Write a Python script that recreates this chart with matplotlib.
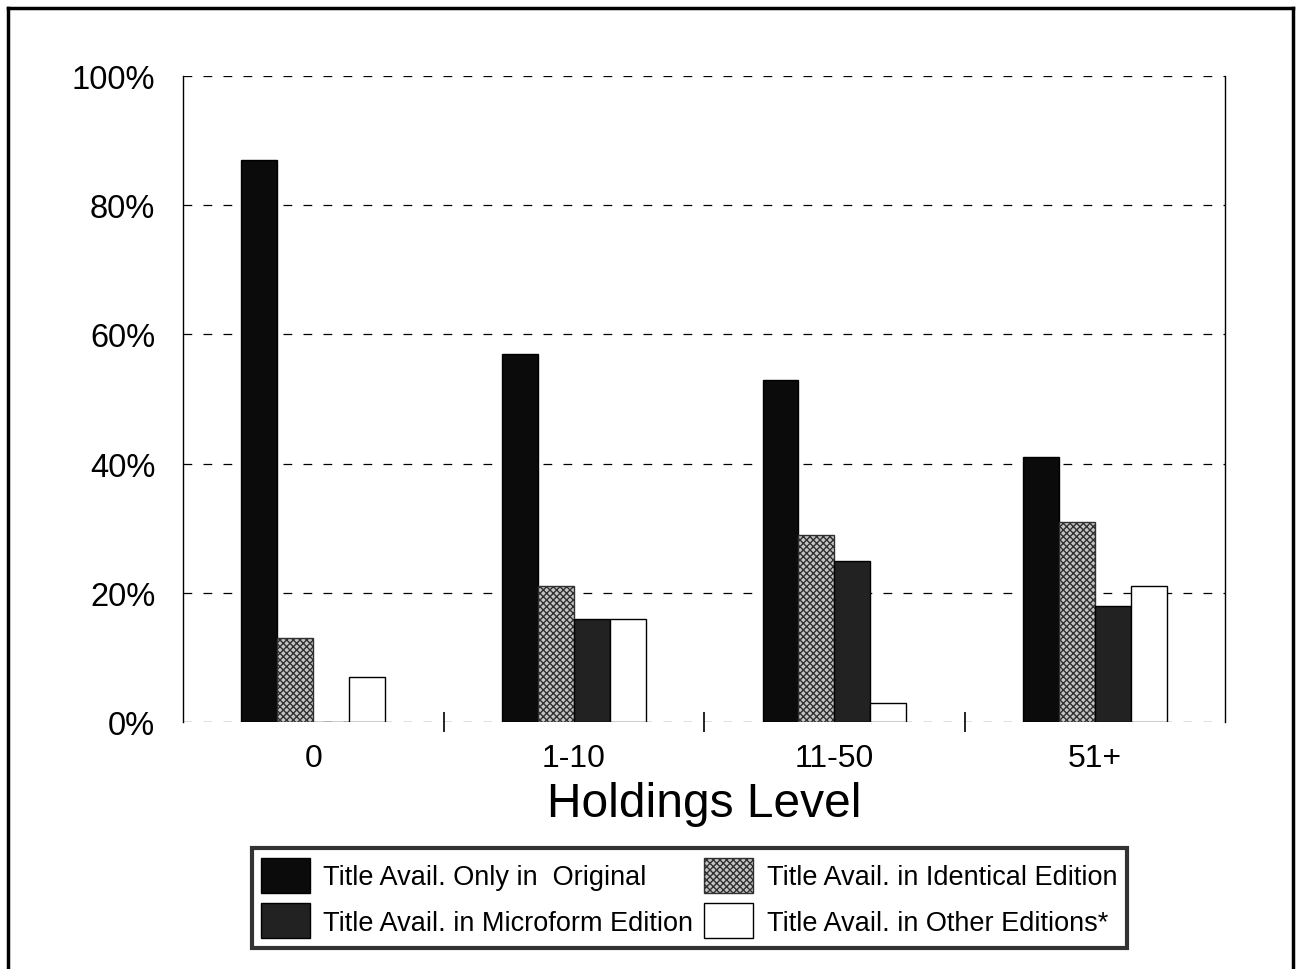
import matplotlib
matplotlib.use("Agg")
import matplotlib.pyplot as plt
import numpy as np
from matplotlib.lines import Line2D

plt.rcParams['font.family'] = ['Liberation Sans', 'DejaVu Sans']
plt.rcParams['hatch.linewidth'] = 1.0

categories = ["0", "1-10", "11-50", "51+"]
series_names = ["Title Avail. Only in  Original",
                "Title Avail. in Identical Edition",
                "Title Avail. in Microform Edition",
                "Title Avail. in Other Editions*"]
original = [87, 57, 53, 41]
identical = [13, 21, 29, 31]
microform = [0, 16, 25, 18]
other = [7, 16, 3, 21]
yticks = [0, 20, 40, 60, 80, 100]
ytick_labels = ["0%", "20%", "40%", "60%", "80%", "100%"]
xlabel = "Holdings Level"

fig = plt.figure(figsize=(12.98, 9.70), dpi=100)
ax = fig.add_axes([0.141, 0.2546, 0.803, 0.666])

x = np.arange(len(categories))
w = 0.138
styles = [
    dict(color="#0b0b0b", edgecolor="black"),
    dict(facecolor="#c4c4c4", edgecolor="#303030", hatch="xxxxx"),
    dict(color="#222222", edgecolor="black"),
    dict(facecolor="white", edgecolor="black"),
]
data = [original, identical, microform, other]
handles = []
for i, (vals, st) in enumerate(zip(data, styles)):
    bars = ax.bar(x + (i - 1.5) * w, vals, width=w, linewidth=1.0, zorder=3, **st)
    handles.append(bars)

ax.set_xlim(-0.5, 3.5)
ax.set_ylim(0, 100)
ax.set_yticks(yticks)
ax.set_yticklabels(ytick_labels, fontsize=23.5)
ax.tick_params(axis='y', length=0, pad=20)
for yv in yticks[1:]:
    ax.axhline(yv, color="black", lw=0.9, ls=(0, (7, 9)), zorder=1)
ax.axhline(0, color="black", lw=0.9, ls=(0, (7, 9)), zorder=1)

ax.set_xticks(x)
ax.set_xticklabels(categories, fontsize=23)
ax.tick_params(axis='x', which='major', length=0, pad=15)
ax.set_xticks([0.5, 1.5, 2.5], minor=True)
ax.tick_params(axis='x', which='minor', length=14, direction='inout', width=1.2)
ax.set_xlabel(xlabel, fontsize=34.5, labelpad=6)

ax.spines['top'].set_visible(False)
ax.spines['bottom'].set_visible(False)
ax.spines['left'].set_linewidth(1.0)
ax.spines['right'].set_linewidth(1.0)

order = [0, 2, 1, 3]
leg = fig.legend([handles[i] for i in order], [series_names[i] for i in order],
                 loc='lower left', bbox_to_anchor=(0.1835, 0.008, 0.695, 0.097),
                 mode='expand', ncol=2, fontsize=19.5, frameon=True, fancybox=False,
                 handlelength=1.8, handleheight=1.6, handletextpad=0.5,
                 borderpad=0.35, labelspacing=0.4, columnspacing=0.3)
leg.get_frame().set_edgecolor("black")
leg.get_frame().set_linewidth(3.0)

# page border
fig.add_artist(Line2D([0.006, 0.006], [0.0, 0.991], transform=fig.transFigure, color="black", lw=2.5))
fig.add_artist(Line2D([0.006, 0.996], [0.991, 0.991], transform=fig.transFigure, color="black", lw=2.5))
fig.add_artist(Line2D([0.996, 0.996], [0.0, 0.991], transform=fig.transFigure, color="black", lw=2.5))

fig.savefig("out.png", dpi=100, facecolor="white")
